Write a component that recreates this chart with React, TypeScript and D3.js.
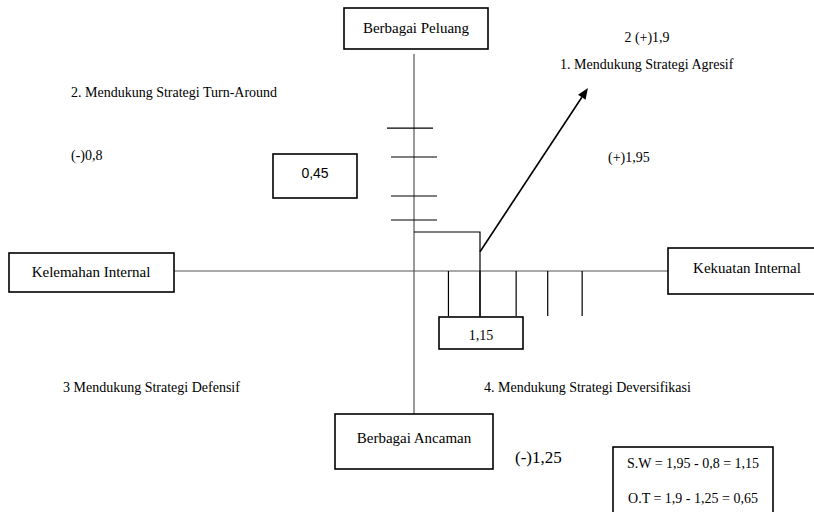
import React from "react";
import * as d3 from "d3";

// Scores
const strengthScore = "1,95";
const weaknessScore = "0,8";
const opportunityScore = "1,9";
const threatScore = "1,25";
const swResult = 1.15;
const otResult = 0.65;
const swLabel = "1,15";
const otBoxLabel = "0,45";
const xTickValues = [0.6, 1.15, 1.78, 2.33, 2.93];
const yTickValues = [2.38, 1.9, 1.25, 0.85];
const arrowFrom = [1.15, 0.32];
const arrowTo = [3.03, 3.05];
const axisLabels = ["Berbagai Peluang", "Kelemahan Internal", "Kekuatan Internal", "Berbagai Ancaman"];
const quadrantLabels = [
  "1. Mendukung Strategi Agresif",
  "2. Mendukung Strategi Turn-Around",
  "3 Mendukung Strategi Defensif",
  "4. Mendukung Strategi Deversifikasi",
];
const formulaLines = ["S.W = 1,95 - 0,8 = 1,15", "O.T = 1,9 - 1,25 = 0,65"];

const serif = "'Liberation Serif', 'Times New Roman', serif";
const sans = "'Liberation Sans', Arial, sans-serif";

export default function App() {
  const x = d3.scaleLinear().domain([0, swResult]).range([414, 480]);
  const y = d3.scaleLinear().domain([0, otResult]).range([271, 232]);
  const x0 = x(0);
  const y0 = y(0);

  const ax = x(arrowFrom[0]);
  const ay = y(arrowFrom[1]);
  const bx = x(arrowTo[0]);
  const by = y(arrowTo[1]);
  const ang = Math.atan2(by - ay, bx - ax);
  const headLen = 11;
  const headW = 4.5;
  const baseX = bx - headLen * Math.cos(ang);
  const baseY = by - headLen * Math.sin(ang);
  const px = -Math.sin(ang);
  const py = Math.cos(ang);
  const head = `M${bx},${by} L${baseX + headW * px},${baseY + headW * py} L${baseX - headW * px},${baseY - headW * py} Z`;

  const boxStroke = { fill: "white", stroke: "black", strokeWidth: 1.6 };

  return (
    <svg
      width={814}
      height={512}
      style={{ position: "absolute", left: 0, top: 0, background: "white", display: "block" }}
    >
      {/* axes */}
      <line x1={x0} y1={54} x2={x0} y2={414} stroke="#555" strokeWidth={1.2} />
      <line x1={174} y1={y0} x2={668} y2={y0} stroke="#555" strokeWidth={1.2} />

      {/* vertical ticks (O/T) */}
      {yTickValues.map((v, i) => (
        <line
          key={"yt" + i}
          x1={x0 - (i === 0 ? 27 : 23)}
          x2={x0 + (i === 0 ? 19 : 23)}
          y1={y(v)}
          y2={y(v)}
          stroke="black"
          strokeWidth={1.2}
        />
      ))}

      {/* horizontal ticks (S/W) */}
      {xTickValues.map((v, i) => (
        <line key={"xt" + i} x1={x(v)} x2={x(v)} y1={y0} y2={y0 + 45} stroke="black" strokeWidth={1.2} />
      ))}

      {/* result position */}
      <polyline
        points={`${x0},${y(otResult)} ${x(swResult)},${y(otResult)} ${x(swResult)},${y0 + 46}`}
        fill="none"
        stroke="black"
        strokeWidth={1.2}
      />

      {/* arrow */}
      <line x1={ax} y1={ay} x2={baseX} y2={baseY} stroke="black" strokeWidth={1.6} />
      <path d={head} fill="black" />

      {/* axis label boxes */}
      <rect x={344} y={8} width={144} height={41} {...boxStroke} />
      <text x={416} y={33} textAnchor="middle" fontFamily={serif} fontSize={15}>{axisLabels[0]}</text>

      <rect x={9} y={253} width={165} height={39} {...boxStroke} />
      <text x={91} y={277} textAnchor="middle" fontFamily={serif} fontSize={15}>{axisLabels[1]}</text>

      <rect x={668} y={248} width={150} height={46} {...boxStroke} />
      <text x={747} y={273} textAnchor="middle" fontFamily={serif} fontSize={15}>{axisLabels[2]}</text>

      <rect x={335} y={414} width={158} height={55} {...boxStroke} />
      <text x={414} y={443} textAnchor="middle" fontFamily={serif} fontSize={15}>{axisLabels[3]}</text>

      {/* value boxes */}
      <rect x={273} y={154} width={84} height={44} {...boxStroke} />
      <text x={315} y={178} textAnchor="middle" fontFamily={sans} fontSize={14}>{otBoxLabel}</text>

      <rect x={439} y={317} width={84} height={32} {...boxStroke} />
      <text x={481} y={340} textAnchor="middle" fontFamily={serif} fontSize={14}>{swLabel}</text>

      {/* score labels */}
      <text x={647} y={42} textAnchor="middle" fontFamily={serif} fontSize={14}>{"2 (+)" + opportunityScore}</text>
      <text x={608} y={162} fontFamily={serif} fontSize={14}>{"(+)" + strengthScore}</text>
      <text x={71} y={160} fontFamily={serif} fontSize={14}>{"(-)" + weaknessScore}</text>
      <text x={515} y={463} fontFamily={serif} fontSize={17}>{"(-)" + threatScore}</text>

      {/* quadrant labels */}
      <text x={560} y={69} fontFamily={serif} fontSize={14}>{quadrantLabels[0]}</text>
      <text x={71} y={97} fontFamily={serif} fontSize={14}>{quadrantLabels[1]}</text>
      <text x={63} y={392} fontFamily={serif} fontSize={14}>{quadrantLabels[2]}</text>
      <text x={484} y={392} fontFamily={serif} fontSize={14}>{quadrantLabels[3]}</text>

      {/* formula box */}
      <rect x={613} y={447} width={160} height={70} {...boxStroke} />
      {formulaLines.map((t, i) => (
        <text key={"f" + i} x={693} y={468 + i * 35} textAnchor="middle" fontFamily={serif} fontSize={14}>
          {t}
        </text>
      ))}
    </svg>
  );
}
